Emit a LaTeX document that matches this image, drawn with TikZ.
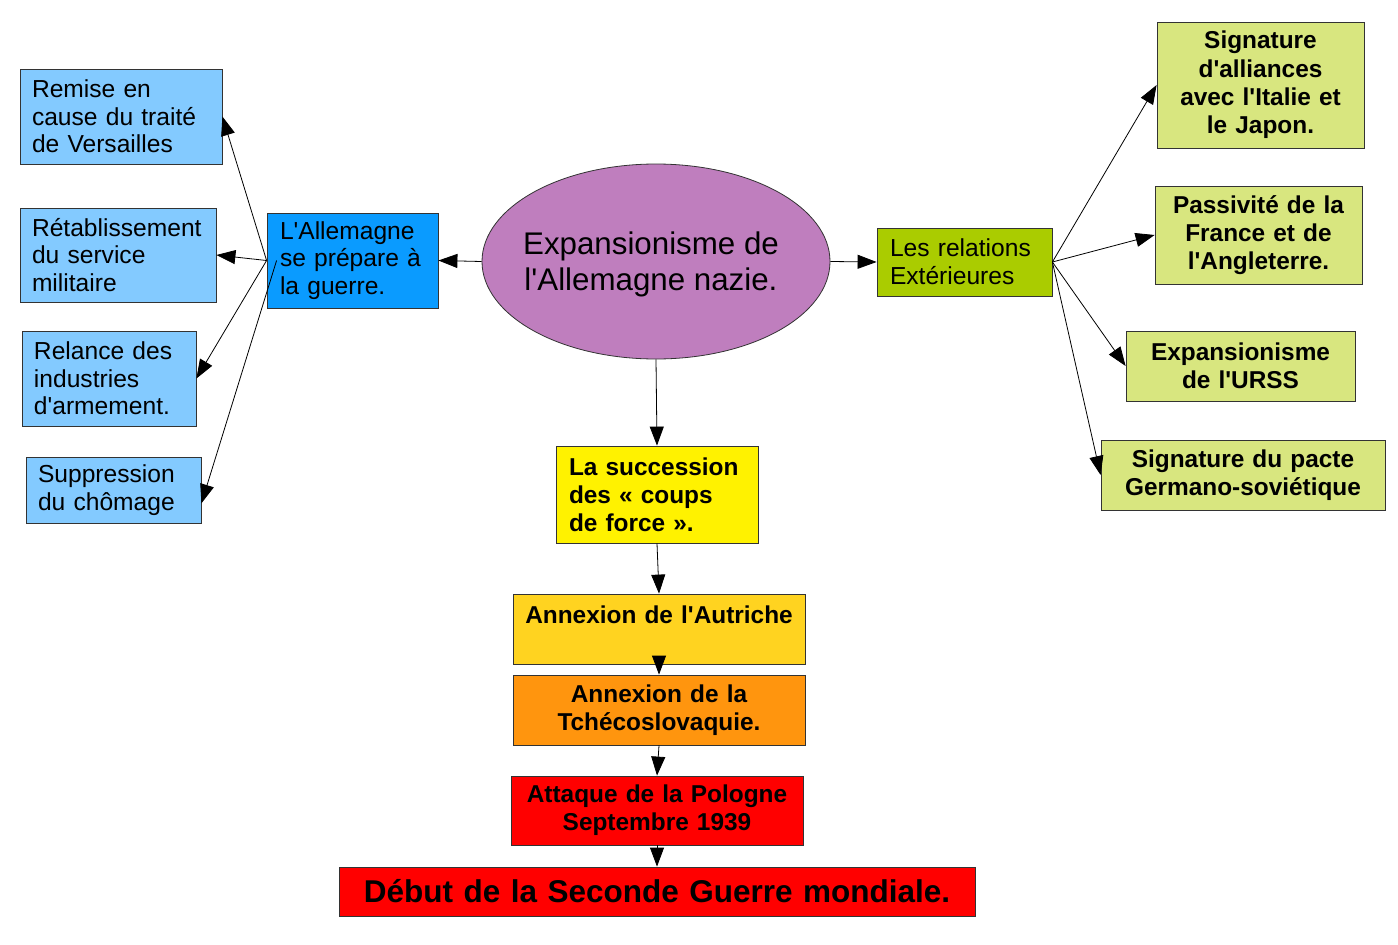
\documentclass[tikz,border=0pt]{standalone}
\usepackage{fontspec}
\setmainfont{Liberation Sans}[Ligatures=TeXOff]
\usetikzlibrary{arrows.meta,shapes.geometric,calc}
\definecolor{lblue}{HTML}{83CAFF}
\definecolor{dblue}{HTML}{0A9BFF}
\definecolor{purp}{HTML}{BF7EBE}
\definecolor{relgreen}{HTML}{AACC00}
\definecolor{lgreen}{HTML}{D8E67F}
\definecolor{gold}{HTML}{FFD320}
\definecolor{orng}{HTML}{FF950E}
\definecolor{bord}{HTML}{333333}
\tikzset{
  bx/.style={rectangle, draw=bord, line width=0.8pt, inner ysep=0pt, text=black},
  lbx/.style={bx, align=left, inner xsep=12pt, font=\fontsize{24.6}{27.6}\selectfont},
  cbx/.style={bx, align=center, inner xsep=4pt, font=\fontsize{24.4}{28.3}\selectfont\bfseries},
  sbx/.style={bx, align=left, inner xsep=13pt, font=\fontsize{24.4}{28}\selectfont\bfseries},
  arr/.style={-{Triangle[length=19pt,width=14pt]}, line width=0.8pt, black},
}
\begin{document}
\begin{tikzpicture}[x=1pt,y=-1pt]
\fill[white] (0,0) rectangle (1398,945);
\useasboundingbox (0,0) rectangle (1398,945);

% left column
\node[lbx, fill=lblue, text width=178pt, minimum height=95pt] (remise) at (121,116.5) {Remise en\\cause du traité\\de Versailles};
\node[lbx, fill=lblue, text width=172pt, minimum height=94pt] (ret) at (118,255) {Rétablissement\\du service\\militaire};
\node[lbx, fill=lblue, text width=150pt, minimum height=95pt] (relance) at (109,378.5) {Relance des\\industries\\d'armement.};
\node[lbx, fill=lblue, text width=151pt, minimum height=66pt] (sup) at (113.5,490) {Suppression\\du chômage};

% L'Allemagne se prépare
\node[lbx, fill=dblue, inner xsep=13pt, text width=145pt, minimum height=95pt] (prep) at (352.5,260.5) {L'Allemagne\\se prépare à\\la guerre.};

% central ellipse
\node[ellipse, draw=bord, line width=0.8pt, fill=purp, inner sep=0pt, minimum width=348pt, minimum height=195pt] (ell) at (656,261.5) {};
\node[align=center, inner sep=0pt, font=\fontsize{31.3}{36}\selectfont] (elltxt) at ($(ell.center)+(-5,2.5)$) {Expansionisme de\\l'Allemagne nazie.};

% relations
\node[lbx, fill=relgreen, inner xsep=13pt, text width=149pt, minimum height=68pt] (rel) at (964.5,262) {Les relations\\Extérieures};

% right column
\node[cbx, fill=lgreen, text width=199pt, minimum height=126pt] (all) at (1260.5,85) {Signature\\d'alliances\\avec l'Italie et\\le Japon.};
\node[cbx, fill=lgreen, text width=199pt, minimum height=98pt] (pas) at (1258.5,235) {Passivité de la\\France et de\\l'Angleterre.};
\node[cbx, fill=lgreen, text width=221pt, minimum height=70pt] (urss) at (1240.5,366) {Expansionisme\\de l'URSS};
\node[cbx, fill=lgreen, text width=276pt, minimum height=70pt] (pac) at (1243,475) {Signature du pacte\\Germano-soviétique};

% central chain
\node[sbx, fill=yellow, text width=176pt, minimum height=97pt] (succ) at (657,494.5) {La succession\\des « coups\\de force ».};
\node[cbx, fill=gold, text width=284pt, minimum height=70pt] (autr) at (659,629) {Annexion de l'Autriche\\\mbox{}};
\node[cbx, fill=orng, text width=284pt, minimum height=70pt] (tch) at (659,710) {Annexion de la\\Tchécoslovaquie.};
\node[cbx, fill=red, text width=284pt, minimum height=69pt] (att) at (657,810.5) {Attaque de la Pologne\\Septembre 1939};
\node[bx, fill=red, align=center, inner xsep=4pt, text width=628pt, minimum height=49pt, font=\fontsize{31.5}{36}\selectfont\bfseries] (debut) at (657,891.5) {Début de la Seconde Guerre mondiale.};

% connectors
\draw[arr] (ell.west) -- (prep.east);
\draw[arr] (ell.east) -- (rel.west);
\draw[arr] (ell.south) -- (succ.north);
\draw[arr] (succ.south) -- (autr.north);
\draw[arr] (autr.south) -- (tch.north);
\draw[arr] (tch.south) -- (att.north);
\draw[arr] (att.south) -- (debut.north);

\draw[arr] (prep.west) -- (remise.east);
\draw[arr] (prep.west) -- (ret.east);
\draw[arr] (prep.west) -- (relance.east);
\coordinate (supstart) at ($(prep.west)+(10,0)$);
\coordinate (supend) at ($(sup.south east)!0.3!(sup.north east)$);
\draw[arr] (supstart) -- (supend);

\draw[arr] (rel.east) -- (all.west);
\draw[arr] (rel.east) -- (pas.west);
\draw[arr] (rel.east) -- (urss.west);
\draw[arr] (rel.east) -- (pac.west);
\end{tikzpicture}
\end{document}
